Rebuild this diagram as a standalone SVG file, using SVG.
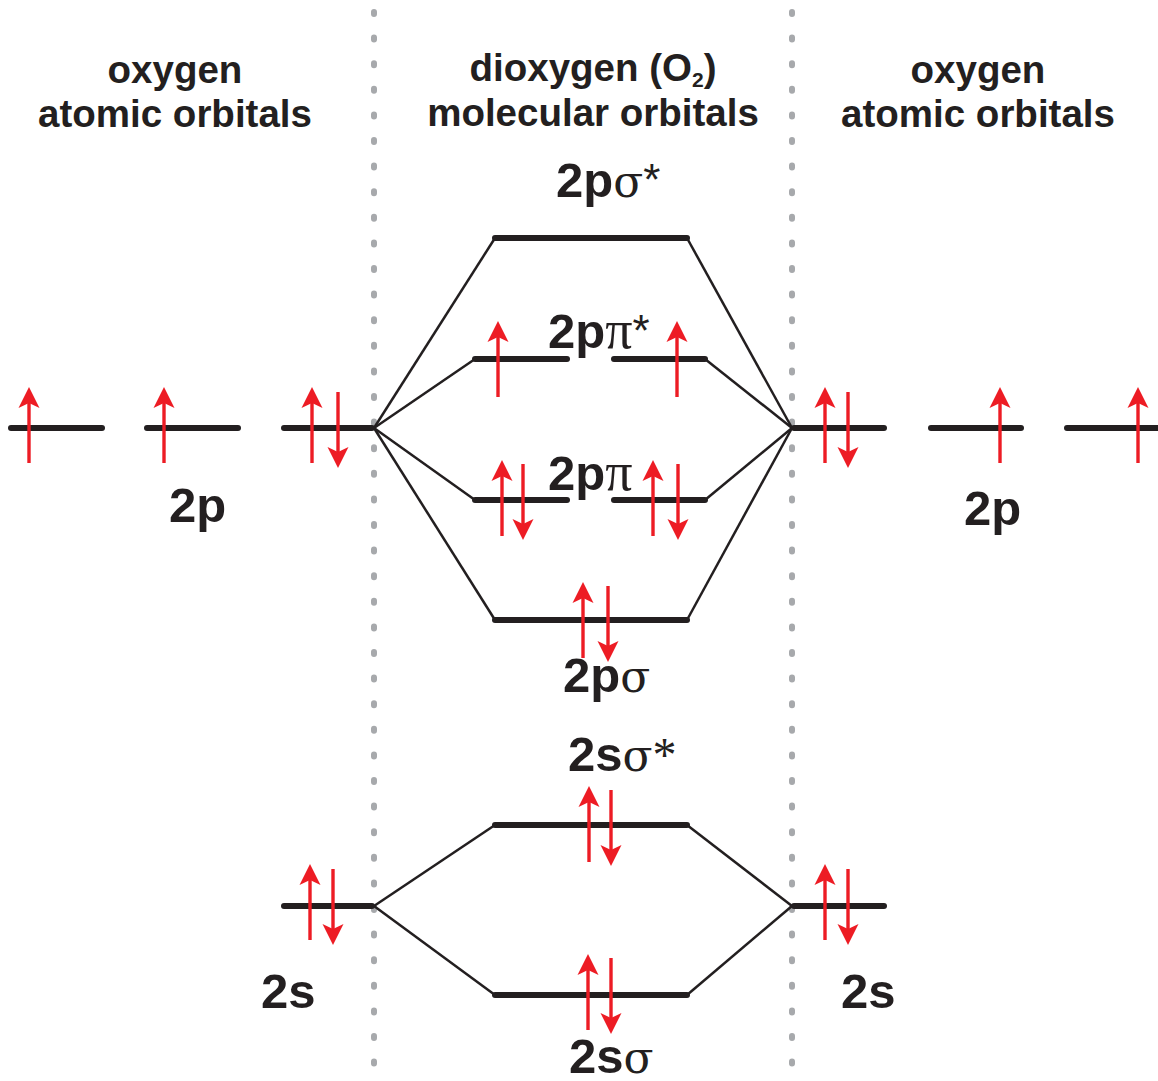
<svg xmlns="http://www.w3.org/2000/svg" width="1158" height="1081" viewBox="0 0 1158 1081">
<style>
.bg{fill:#ffffff}
.dot{stroke:#a7a9ac;stroke-width:6;stroke-linecap:round;stroke-dasharray:2 23.6;fill:none}
.lvl{stroke:#231f20;stroke-width:6;stroke-linecap:round;fill:none}
.con{stroke:#231f20;stroke-width:2.5;fill:none}
.hd{font-family:"Liberation Sans",Arial,sans-serif;font-weight:bold;font-size:38.5px;fill:#231f20;text-anchor:middle}
.lb{font-family:"Liberation Sans",Arial,sans-serif;font-weight:bold;font-size:49px;fill:#231f20}
.gr{font-family:"DejaVu Serif","Liberation Serif",serif;font-weight:normal;font-size:44px}
.pi{font-family:"Liberation Serif","Times New Roman",serif;font-weight:normal;font-size:54px}
.st{font-family:"Liberation Sans",Arial,sans-serif;font-weight:normal;font-size:44px}
.ts{font-family:"Liberation Serif","Times New Roman",serif;font-weight:normal;font-size:48px}
.ash{stroke:#ed1c24;stroke-width:3.4;fill:none}
.ahd{fill:#ed1c24}
</style>
<defs>
<g id="up">
<line class="ash" x1="0" y1="0" x2="0" y2="-64"/>
<path class="ahd" d="M0,-76 L10.5,-55 L0,-60 L-10.5,-55 Z"/>
</g>
<g id="down">
<line class="ash" x1="0" y1="0" x2="0" y2="64"/>
<path class="ahd" d="M0,76 L10.5,55 L0,60 L-10.5,55 Z"/>
</g>
</defs>
<rect class="bg" x="0" y="0" width="1158" height="1081"/>
<g id="dividers">
<line class="dot" x1="374" y1="12" x2="374" y2="1081"/>
<line class="dot" x1="792" y1="12" x2="792" y2="1081"/>
</g>
<g id="headers">
<text class="hd" x="175" y="83">oxygen</text>
<text class="hd" x="175" y="127">atomic orbitals</text>
<text class="hd" x="593" y="81">dioxygen (O<tspan font-size="21" dy="6">2</tspan><tspan dy="-6">)</tspan></text>
<text class="hd" x="593" y="126">molecular orbitals</text>
<text class="hd" x="978" y="83">oxygen</text>
<text class="hd" x="978" y="127">atomic orbitals</text>
</g>
<g id="connectors">
<line class="con" x1="374" y1="428" x2="495" y2="238"/>
<line class="con" x1="687" y1="238" x2="792" y2="428"/>
<line class="con" x1="374" y1="428" x2="475" y2="359"/>
<line class="con" x1="705" y1="359" x2="792" y2="428"/>
<line class="con" x1="374" y1="428" x2="475" y2="500"/>
<line class="con" x1="705" y1="500" x2="792" y2="428"/>
<line class="con" x1="374" y1="428" x2="495" y2="620"/>
<line class="con" x1="687" y1="620" x2="792" y2="428"/>
<line class="con" x1="374" y1="906" x2="495" y2="825"/>
<line class="con" x1="687" y1="825" x2="792" y2="906"/>
<line class="con" x1="374" y1="906" x2="495" y2="995"/>
<line class="con" x1="687" y1="995" x2="792" y2="906"/>
</g>
<g id="left-2p">
<line class="lvl" x1="11" y1="428" x2="102" y2="428"/>
<line class="lvl" x1="147" y1="428" x2="238" y2="428"/>
<line class="lvl" x1="284" y1="428" x2="372" y2="428"/>
<use href="#up" x="29" y="463"/>
<use href="#up" x="164" y="463"/>
<use href="#up" x="312" y="463"/>
<use href="#down" x="338" y="392"/>
<text class="lb" x="169" y="522">2p</text>
</g>
<g id="right-2p">
<line class="lvl" x1="794" y1="428" x2="884" y2="428"/>
<line class="lvl" x1="931" y1="428" x2="1021" y2="428"/>
<line class="lvl" x1="1067" y1="428" x2="1160" y2="428"/>
<use href="#up" x="825" y="463"/>
<use href="#down" x="848" y="392"/>
<use href="#up" x="1000" y="463"/>
<use href="#up" x="1138" y="463"/>
<text class="lb" x="964" y="525">2p</text>
</g>
<g id="left-2s">
<line class="lvl" x1="284" y1="906" x2="372" y2="906"/>
<use href="#up" x="310" y="940"/>
<use href="#down" x="333" y="869"/>
<text class="lb" x="261" y="1008">2s</text>
</g>
<g id="right-2s">
<line class="lvl" x1="794" y1="906" x2="884" y2="906"/>
<use href="#up" x="825" y="940"/>
<use href="#down" x="848" y="869"/>
<text class="lb" x="841" y="1008">2s</text>
</g>
<g id="mo-2p-sigma-star">
<line class="lvl" x1="495" y1="238" x2="687" y2="238"/>
<text class="lb" x="556" y="197">2p<tspan class="gr">σ</tspan><tspan class="st" dy="-2">*</tspan></text>
</g>
<g id="mo-2p-pi-star">
<line class="lvl" x1="475" y1="359" x2="567" y2="359"/>
<line class="lvl" x1="614" y1="359" x2="705" y2="359"/>
<use href="#up" x="498" y="397"/>
<use href="#up" x="677" y="397"/>
<text class="lb" x="548" y="348">2p<tspan class="pi">π</tspan><tspan class="st" dy="-2">*</tspan></text>
</g>
<g id="mo-2p-pi">
<line class="lvl" x1="475" y1="500" x2="567" y2="500"/>
<line class="lvl" x1="614" y1="500" x2="705" y2="500"/>
<use href="#up" x="502" y="536"/>
<use href="#down" x="523" y="464"/>
<use href="#up" x="653" y="536"/>
<use href="#down" x="678" y="464"/>
<text class="lb" x="548" y="490">2p<tspan class="pi">π</tspan></text>
</g>
<g id="mo-2p-sigma">
<line class="lvl" x1="495" y1="620" x2="687" y2="620"/>
<use href="#up" x="583" y="658"/>
<use href="#down" x="608" y="586"/>
<text class="lb" x="563" y="692">2p<tspan class="gr">σ</tspan></text>
</g>
<g id="mo-2s-sigma-star">
<line class="lvl" x1="495" y1="825" x2="687" y2="825"/>
<use href="#up" x="589" y="862"/>
<use href="#down" x="611" y="790"/>
<text class="lb" x="568" y="771">2s<tspan class="gr">σ</tspan><tspan class="ts">*</tspan></text>
</g>
<g id="mo-2s-sigma">
<line class="lvl" x1="495" y1="995" x2="687" y2="995"/>
<use href="#up" x="588" y="1030"/>
<use href="#down" x="611" y="958"/>
<text class="lb" x="569" y="1073">2s<tspan class="gr">σ</tspan></text>
</g>
</svg>
